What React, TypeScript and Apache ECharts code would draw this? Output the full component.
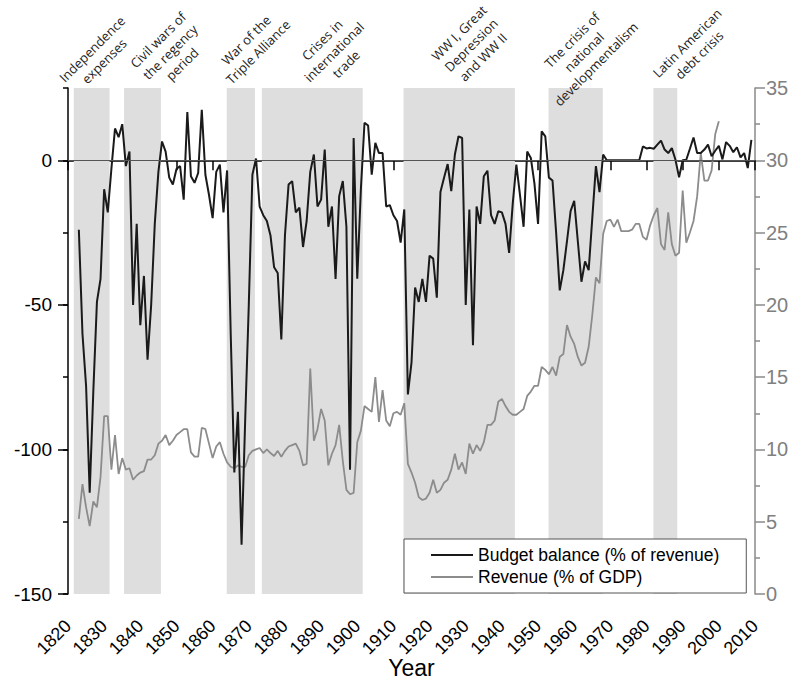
import React, { useEffect, useRef } from "react";
import * as echarts from "echarts";

// ---------- data ----------
const budgetStartYear = 1823;
const budgetBalance = [
  -24, -60, -78, -115, -80, -49, -41, -10, -18, -3, // 1823-1832
  11, 8, 12.5, -2, 3, -50, -22, -57, -40, -69, // 1833-1842
  -50, -22, -4, 6.5, 3, -6, -8.4, -3, -2, -13.6, // 1843-1852
  16.7, -5.5, -7.8, -4.4, 17.5, -5, -12, -20, -4, -1.5, // 1853-1862
  -18, -3.5, -60, -108, -87, -133, -90, -50, -5, 0.6, // 1863-1872
  -16, -19, -21, -26, -37, -39, -62, -26, -8.4, -7.2, // 1873-1882
  -18, -16.4, -30, -21, -4, 2, -16, -13.6, 3.7, -23, // 1883-1892
  -16, -41, -12.4, -7.2, -23, -107, 7.7, -41, -10, 13, // 1893-1902
  12, -5, 6, 2.5, 2.5, -16, -15.5, -19, -21, -28.5, // 1903-1912
  -17, -81, -70, -44, -49, -41, -49, -33, -34, -47.5, // 1913-1922
  -11, -6, -1.3, -10.7, 2, 8.3, 7.7, -50, -17, -64, // 1923-1932
  -16, -22, -5.5, -3.6, -19, -22, -17.6, -18, -22, -32, // 1933-1942
  -15, -1.5, -12, -23, 3, 0.8, -8, -22, 10, 8.3, // 1943-1952
  -6, -7, -25, -45, -38, -28, -17.6, -14, -28, -42, // 1953-1962
  -35, -38, -20, -2, -11, 2, 0, 0, 0, 0, // 1963-1972
  0, 0, 0, 0, 0, 0, 4.8, 4.1, 4.3, 4, // 1973-1982
  5.4, 6.8, 3.7, 2.5, 4.2, 0.2, -5.9, 0, 0.2, 4, // 1983-1992
  7.9, 2.5, 2.5, 3.7, 5.4, 1.4, 3.3, 5, 0.3, 6.3, // 1993-2002
  5, 2.8, 4.5, 1, 2.5, -2.7, 7.1, // 2003-2009
];

const revenueStartYear = 1823;
const revenue = [
  5.2, 7.6, 6.0, 4.7, 6.4, 6.0, 8.1, 12.3, 12.3, 8.6, // 1823-1832
  11, 8.3, 9.4, 8.6, 8.7, 7.9, 8.2, 8.4, 8.5, 9.3, // 1833-1842
  9.3, 9.6, 10.4, 10.6, 11, 10.3, 10.6, 11, 11.2, 11.4, // 1843-1852
  11.4, 9.8, 9.5, 9.5, 11.5, 11.4, 10.4, 9.4, 10.2, 10.5, // 1853-1862
  9.7, 9.1, 8.8, 8.7, 8.9, 8.8, 8.8, 9.6, 9.9, 10.0, // 1863-1872
  10.1, 9.75, 10, 9.75, 9.55, 9.9, 9.5, 9.9, 10.2, 10.3, // 1873-1882
  10.4, 9.9, 8.9, 9.0, 15.6, 10.6, 11.4, 12.8, 12, 8.9, // 1883-1892
  9.7, 10.3, 11.7, 9.2, 7.2, 6.9, 7.0, 10.5, 11.3, 13, // 1893-1902
  12.8, 12.6, 15, 11.9, 14.1, 12, 11.6, 12.5, 12.6, 12.4, // 1903-1912
  13.2, 9.0, 8.4, 7.7, 6.7, 6.5, 6.6, 7.0, 7.9, 7.0, // 1913-1922
  7.2, 7.7, 7.9, 8.6, 9.7, 8.6, 9.1, 8.3, 10.4, 9.7, // 1923-1932
  10.3, 9.9, 10.5, 11.7, 11.7, 12, 13.3, 13.5, 13, 12.6, // 1933-1942
  12.4, 12.4, 12.6, 12.8, 13.7, 14, 14.4, 14.4, 15.7, 15.5, // 1943-1952
  15.2, 15.7, 15.1, 16.4, 16.6, 18.6, 17.8, 17.3, 16.4, 15.8, // 1953-1962
  16, 17.1, 19.3, 21.9, 21.5, 24.9, 25.8, 25.9, 25.4, 25.9, // 1963-1972
  25.1, 25.1, 25.1, 25.2, 25.6, 25.6, 24.7, 24.5, 25.5, 26.2, // 1973-1982
  26.7, 24.2, 23.8, 26.4, 24.2, 23.4, 23.6, 27.9, 24.3, 25, // 1983-1992
  25.8, 27.5, 30.5, 28.6, 28.6, 29.3, 31.8, 32.7, // 1993-2000
];

const periodNames = [
  "Independence\nexpenses",
  "Civil wars of\nthe regency\nperiod",
  "War of the\nTriple Alliance",
  "Crises in\ninternational\ntrade",
  "WW I, Great\nDepression\nand WW II",
  "The crisis of\nnational\ndevelopmentalism",
  "Latin American\ndebt crisis",
];
const periodStart = [1821.6, 1835.5, 1863.9, 1873.6, 1912.8, 1952.9, 1981.9];
const periodEnd = [1831.5, 1845.7, 1871.7, 1901.5, 1943.6, 1967.9, 1988.5];

const seriesNames = ["Budget balance (% of revenue)", "Revenue (% of GDP)"];

// ---------- layout (pixels) ----------
const periodLabelPos: [number, number][] = [
  [98, 55],
  [170, 52],
  [252, 46],
  [334, 52],
  [471, 45],
  [584, 52],
  [693, 49],
];

const FONT = "'Liberation Sans', Arial, sans-serif";

export default function App() {
  const ref = useRef<HTMLDivElement>(null);

  useEffect(() => {
    if (!ref.current) return;
    const chart = echarts.init(ref.current, null, { renderer: "svg" });

    const budgetData = budgetBalance.map((v, i) => [budgetStartYear + i, v]);
    const revenueData = revenue.map((v, i) => [revenueStartYear + i, v]);
    const areas = periodStart.map((s, i) => [{ xAxis: s }, { xAxis: periodEnd[i] }]);

    chart.setOption({
      animation: false,
      grid: { left: 68, right: 38, top: 88, bottom: 101, containLabel: false },
      legend: {
        data: seriesNames,
        orient: "vertical",
        left: 404,
        top: 539,
        itemWidth: 42,
        itemHeight: 14,
        itemGap: 4,
        padding: [7, 27, 7, 26],
        borderColor: "#555",
        borderWidth: 1,
        backgroundColor: "#fff",
        itemStyle: { opacity: 0 },
        textStyle: { fontFamily: FONT, fontSize: 17.5, color: "#000" },
      },
      xAxis: {
        type: "value",
        min: 1820,
        max: 2010,
        interval: 10,
        axisLine: { show: true, lineStyle: { color: "#000", width: 1.5 } },
        axisTick: { show: true, length: 10, lineStyle: { color: "#000", width: 1.5 } },
        axisLabel: {
          rotate: 45,
          margin: 29,
          fontSize: 18,
          color: "#000",
          fontFamily: FONT,
          formatter: (v: number) => String(v),
        },
        splitLine: { show: false },
        name: "Year",
        nameLocation: "middle",
        nameGap: 62,
        nameMoveOverlap: false,
        nameTextStyle: { fontSize: 23, color: "#000", fontFamily: FONT },
      },
      yAxis: [
        {
          type: "value",
          position: "left",
          min: -150,
          max: 25,
          interval: 50,
          axisLine: { show: true, lineStyle: { color: "#000", width: 1.5 } },
          axisTick: {
            show: true,
            length: 10,
            customValues: [-150, -100, -50, 0],
            lineStyle: { color: "#000", width: 1.5 },
          },
          axisLabel: {
            margin: 16,
            fontSize: 19,
            color: "#000",
            fontFamily: FONT,
            formatter: (v: number) => (v % 50 === 0 ? String(v) : ""),
          },
          splitLine: { show: false },
        },
        {
          type: "value",
          position: "right",
          min: 0,
          max: 35,
          interval: 5,
          axisLine: { show: true, lineStyle: { color: "#8a8a8a", width: 1.5 } },
          axisTick: { show: true, length: 10, lineStyle: { color: "#8a8a8a", width: 1.5 } },
          minorTick: { show: true, splitNumber: 2, length: 5, lineStyle: { color: "#8a8a8a", width: 1.5 } },
          axisLabel: { margin: 11, fontSize: 20, color: "#808080", fontFamily: FONT },
          splitLine: { show: false },
          minorSplitLine: { show: false },
        },
        {
          type: "value",
          position: "left",
          offset: 0,
          min: -150,
          max: 25,
          interval: 25,
          axisLine: { show: false },
          axisTick: { show: true, length: 5, lineStyle: { color: "#000", width: 1.5 } },
          axisLabel: { show: false },
          splitLine: { show: false },
        },
      ],
      series: [
        {
          type: "line",
          data: [],
          xAxisIndex: 0,
          yAxisIndex: 0,
          silent: true,
          z: 1,
          markArea: {
            silent: true,
            itemStyle: { color: "#dedede", opacity: 1 },
            data: areas,
          },
        },
        {
          name: seriesNames[1],
          type: "line",
          yAxisIndex: 1,
          data: revenueData,
          symbol: "none",
          showSymbol: false,
          lineStyle: { color: "#8c8c8c", width: 1.8 },
          itemStyle: { color: "#8c8c8c" },
          z: 3,
        },
        {
          name: seriesNames[0],
          type: "line",
          yAxisIndex: 0,
          data: budgetData,
          symbol: "none",
          showSymbol: false,
          lineStyle: { color: "#1a1a1a", width: 2 },
          itemStyle: { color: "#1a1a1a" },
          z: 4,
          markLine: {
            silent: true,
            symbol: ["none", "none"],
            label: { show: false },
            lineStyle: { color: "#555", width: 1, type: "solid" },
            data: [{ yAxis: 0 }],
          },
        },
      ],
      graphic: periodNames.map((t, i) => ({
        type: "text",
        x: periodLabelPos[i][0],
        y: periodLabelPos[i][1],
        rotation: Math.PI / 4,
        z: 100,
        style: {
          text: t,
          fontFamily: "'Open Sans', 'Noto Sans', sans-serif",
          fontSize: 13,
          lineHeight: 17,
          fill: "#222",
          align: "center",
          verticalAlign: "middle",
        },
      })),
    });

    return () => chart.dispose();
  }, []);

  return (
    <div
      ref={ref}
      style={{ position: "fixed", left: 0, top: 0, width: 793, height: 695, background: "#fff" }}
    />
  );
}
